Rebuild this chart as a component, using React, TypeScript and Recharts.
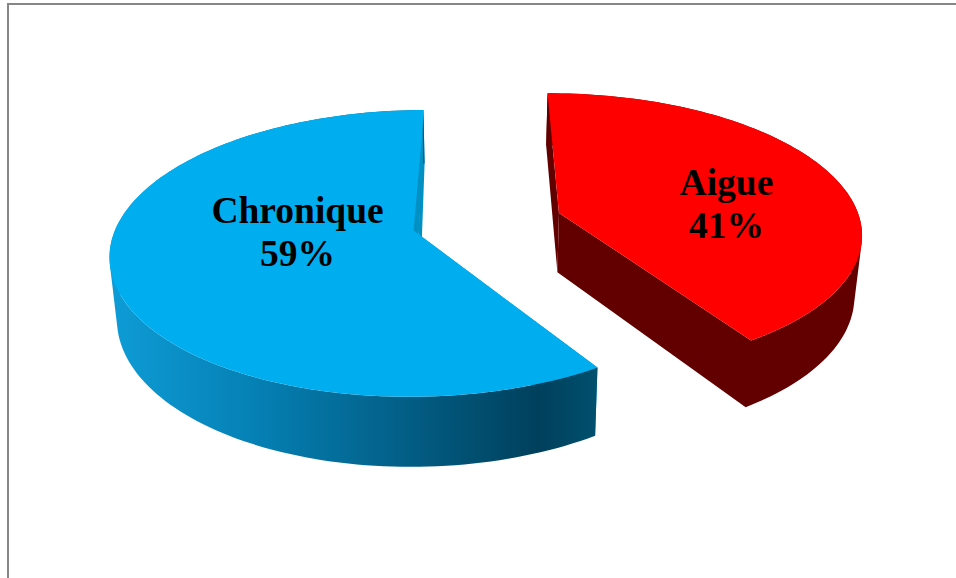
import React from "react";
import { PieChart, Pie, Cell } from "recharts";

const categories = ["Aigue", "Chronique"];
const shares = [41, 59];
const topColors = ["#FF0000", "#00AEEF"];

const pieData = categories.map((name, i) => ({ name, value: shares[i], fill: topColors[i] }));

// Projection of the tilted disc onto the page
const TILT_RATIO = 138 / 302;
const PERSPECTIVE = 0.132;
const VANISH_X = 480;
const EXPLODE_U = 0.243;
const EXPLODE_V = 0.27;
const DEPTH = 60;
const DEPTH_SHRINK = 0.98;
const CX = 489.5;
const CY = 223.5;
const RADIUS = 302;
const START_ANGLE = 90.5;

type P = { x: number; y: number; s: number };

const project = (cx: number, cy: number, r: number, u: number, v: number): P => {
  const s = 1 / (1 - PERSPECTIVE * v);
  return {
    x: VANISH_X + (cx - VANISH_X + r * u) * s,
    y: cy + r * TILT_RATIO * v * s,
    s,
  };
};

const lower = (p: P): P => ({
  x: VANISH_X + (p.x - VANISH_X) * DEPTH_SHRINK,
  y: p.y + DEPTH * p.s,
  s: p.s,
});

const toPath = (pts: P[]) =>
  pts.map((p, i) => `${i ? "L" : "M"}${p.x.toFixed(2)} ${p.y.toFixed(2)}`).join("") + "Z";

// Quad with a fixed winding, so that a union of them in one path has no holes
const windedQuad = (a: P, b: P): P[] => {
  const q = [a, b, lower(b), lower(a)];
  let area = 0;
  q.forEach((p, i) => {
    const n = q[(i + 1) % 4];
    area += p.x * n.y - n.x * p.y;
  });
  return area < 0 ? q.reverse() : q;
};

const rad = (d: number) => (d * Math.PI) / 180;

const offsets = (midAngle: number) => ({
  u: EXPLODE_U * Math.cos(rad(midAngle)),
  v: -EXPLODE_V * Math.sin(rad(midAngle)),
});

// Solid 3D wedge: sidewalls first, then the top face over them
const Wedge3D = (props: any) => {
  const { cx, cy, outerRadius, startAngle, endAngle, fill, index } = props;
  const mid = (startAngle + endAngle) / 2;
  const { u, v } = offsets(mid);
  const apex = project(cx, cy, outerRadius, u, v);
  const arc: P[] = [];
  const steps = Math.ceil(Math.abs(endAngle - startAngle) / 1.5);
  for (let i = 0; i <= steps; i++) {
    const a = rad(startAngle + ((endAngle - startAngle) * i) / steps);
    arc.push(project(cx, cy, outerRadius, u + Math.cos(a), v - Math.sin(a)));
  }
  const first = arc[0];
  const last = arc[arc.length - 1];
  const isBlue = index === 1;
  const gradId = `wall-${index}`;
  const cutColor = isBlue ? "#0090C4" : "#620000";
  const lerp = (a: P, b: P, t: number): P => ({ x: a.x + (b.x - a.x) * t, y: a.y + (b.y - a.y) * t, s: a.s });
  const rimPath = arc
    .slice(1)
    .map((p, i) => toPath(windedQuad(arc[i], p)))
    .join("");
  // The dark red cut faces join the rim in a single outline
  const redCuts = isBlue ? "" : toPath(windedQuad(last, apex));

  return (
    <g>
      <defs>
        <linearGradient id={gradId} gradientUnits="userSpaceOnUse" x1="110" y1="0" x2="597" y2="0">
          {isBlue ? (
            <>
              <stop offset="0" stopColor="#0E9CD6" />
              <stop offset="0.3" stopColor="#0580B4" />
              <stop offset="0.88" stopColor="#00405C" />
              <stop offset="1" stopColor="#00506E" />
            </>
          ) : (
            <stop offset="0" stopColor="#620000" />
          )}
        </linearGradient>
      </defs>
      <path d={toPath([first, apex, lower(apex), lower(first)])} fill={cutColor} />
      {isBlue && <path d={toPath([last, apex, lower(apex), lower(last)])} fill={cutColor} />}
      <path d={rimPath + redCuts} fill={`url(#${gradId})`} />
      <path d={toPath([apex, ...arc])} fill={fill} />
      {isBlue && (
        <path
          d={toPath([
            lerp(last, apex, 0.12),
            { x: lerp(last, apex, 0.45).x + 2, y: lerp(last, apex, 0.45).y, s: 1 },
            apex,
            { x: apex.x - 5, y: apex.y - 4, s: 1 },
          ])}
          fill={cutColor}
        />
      )}
    </g>
  );
};

// Centre of each two-line label, measured from the wedge apex
const labelShift: Record<string, { dx: number; dy: number }> = {
  Aigue: { dx: 167.5, dy: -9 },
  Chronique: { dx: -121, dy: -2 },
};

const renderLabel = (props: any) => {
  const { cx, cy, outerRadius, midAngle, name, percent } = props;
  const { u, v } = offsets(midAngle);
  const apex = project(cx, cy, outerRadius, u, v);
  const shift = labelShift[name];
  const x = apex.x + shift.dx;
  const y = apex.y + shift.dy;
  return (
    <text
      x={x}
      y={y}
      textAnchor="middle"
      fontFamily="'Liberation Serif', serif"
      fontWeight="bold"
      fontSize={37.5}
      fill="#000"
    >
      <tspan x={x} dy={-9}>{name}</tspan>
      <tspan x={x} dy={43}>{`${Math.round(percent * 100)}%`}</tspan>
    </text>
  );
};

export default function App() {
  return (
    <div style={{ position: "absolute", left: 0, top: 0, width: 956, height: 578, background: "#fff", overflow: "hidden" }}>
      <div
        style={{
          position: "absolute",
          left: 7,
          top: 3,
          right: 0,
          bottom: 0,
          borderTop: "2px solid #868686",
          borderLeft: "2px solid #868686",
        }}
      />
      <div style={{ position: "absolute", left: 0, top: 0 }}>
        <PieChart width={956} height={578} margin={{ top: 0, right: 0, bottom: 0, left: 0 }}>
          <Pie
            data={pieData}
            dataKey="value"
            nameKey="name"
            cx={CX}
            cy={CY}
            innerRadius={0}
            outerRadius={RADIUS}
            startAngle={START_ANGLE}
            endAngle={START_ANGLE - 360}
            stroke="none"
            shape={Wedge3D}
            label={renderLabel}
            labelLine={false}
            isAnimationActive={false}
          >
            {pieData.map((d) => (
              <Cell key={d.name} fill={d.fill} />
            ))}
          </Pie>
        </PieChart>
      </div>
    </div>
  );
}
